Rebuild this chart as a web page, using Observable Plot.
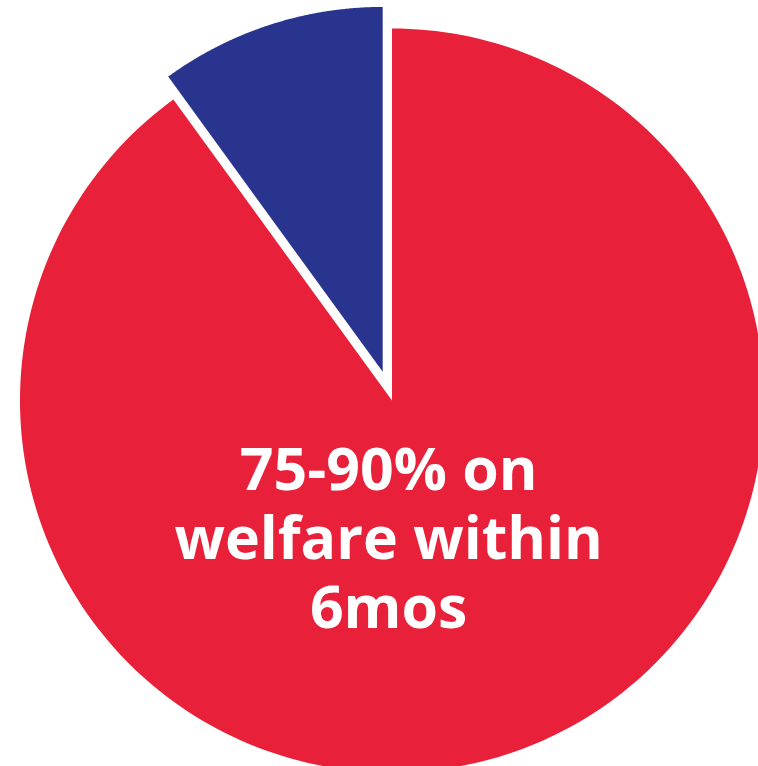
<!DOCTYPE html>
<html>
<head>
<meta charset="utf-8">
<script src="https://cdn.jsdelivr.net/npm/d3@7"></script>
<script src="https://cdn.jsdelivr.net/npm/@observablehq/plot@0.6"></script>
<style>
  html, body { margin: 0; padding: 0; background: #ffffff; }
  #chart svg { display: block; }
</style>
</head>
<body>
<div id="chart"></div>
<script>
// ---- data ----
const categories = ["On welfare within 6 months", "Other"];
const shares = [90, 10];
const sliceColors = ["#E92039", "#29348E"];
const exploded = [false, true];
const labelText = ["75-90% on\nwelfare within\n6mos"];
const labelPos = [{u: -0.009, v: -0.366}];

// ---- geometry built from data ----
const pie = d3.pie().sort(null).startAngle(0).endAngle(2 * Math.PI)(shares);
const explodeDist = 0.081;   // in radius units
const explodeRadius = 0.981;
const pts = [];
pie.forEach((s, i) => {
  const name = categories[i];
  const mid = (s.startAngle + s.endAngle) / 2;
  const off = exploded[i] ? explodeDist : 0;
  const r = exploded[i] ? explodeRadius : 1;
  const ox = off * Math.sin(mid), oy = off * Math.cos(mid);
  pts.push({name, u: ox, v: oy});
  const steps = 240;
  for (let k = 0; k <= steps; k++) {
    const a = s.startAngle + (s.endAngle - s.startAngle) * k / steps;
    pts.push({name, u: ox + r * Math.sin(a), v: oy + r * Math.cos(a)});
  }
  pts.push({name, u: ox, v: oy});
});

const chart = Plot.plot({
  width: 758,
  height: 766,
  margin: 0,
  x: {domain: [-1.0524, 0.9852], axis: null},
  y: {domain: [-0.9839, 1.0753], axis: null},
  color: {domain: categories, range: sliceColors},
  style: {background: "#ffffff"},
  marks: [
    Plot.line(pts, {x: "u", y: "v", z: "name", fill: "name", stroke: "none", curve: "linear"}),
    Plot.text(labelText.map((t, i) => ({t, ...labelPos[i]})), {
      x: "u", y: "v", text: "t",
      fill: "#ffffff",
      fontSize: 59,
      fontWeight: "bold",
      fontFamily: "Open Sans",
      lineHeight: 1.17,
      textAnchor: "middle"
    })
  ]
});
document.getElementById("chart").appendChild(chart);
</script>
</body>
</html>
